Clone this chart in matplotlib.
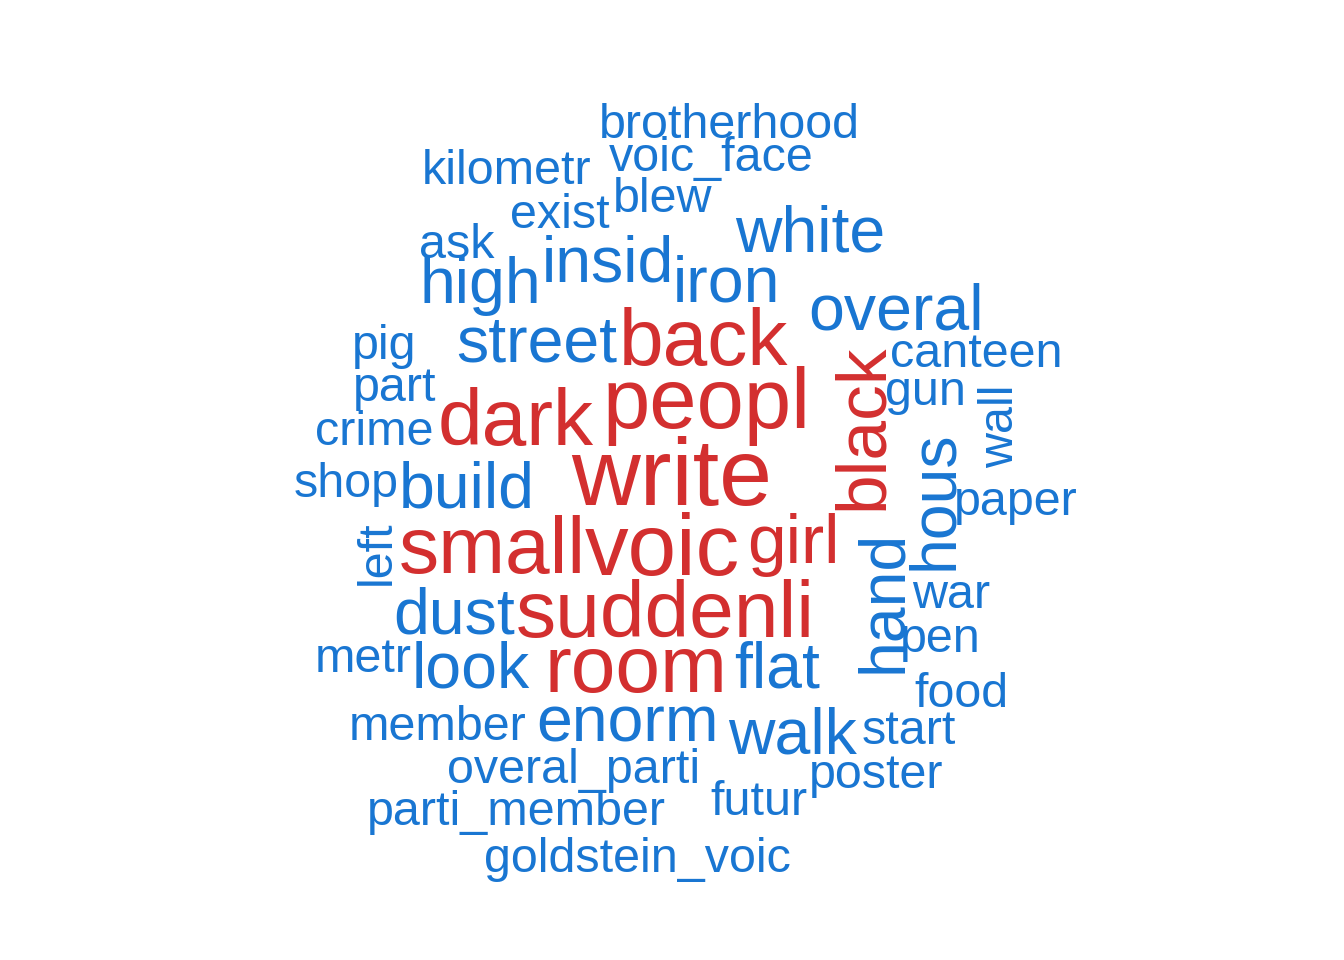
import matplotlib
matplotlib.use("Agg")
import matplotlib.pyplot as plt

# word frequencies (stemmed terms)
words = ["write", "peopl", "voic", "back", "dark", "small", "suddenli", "room",
         "girl", "black",
         "white", "overal", "insid", "high", "iron", "street", "build", "dust",
         "look", "flat", "enorm", "walk", "hous", "hand",
         "brotherhood", "voic_face", "kilometr", "blew", "exist", "ask", "pig",
         "canteen", "part", "gun", "crime", "shop", "paper", "war", "pen",
         "metr", "food", "member", "start", "overal_parti", "poster", "futur",
         "parti_member", "goldstein_voic", "left", "wall"]
freq = [31.3, 27.6, 28.4, 25.9, 25.9, 25.9, 25.9, 25.9,
        22, 22.7,
        20.2, 20.2, 20.2, 20.2, 20.2, 20.2, 20.2, 20.2,
        20.2, 20.2, 20.2, 20.2, 20.2, 20.2,
        14.45, 14.45, 14.45, 14.45, 14.45, 14.45, 14.45,
        14.45, 14.45, 14.45, 14.45, 14.45, 14.45, 14.45, 14.45,
        14.45, 14.45, 14.45, 14.45, 14.45, 14.45, 14.45,
        14.45, 14.45, 14.45, 14.45]

# placement found by the cloud layout (left end, baseline, rotation) in pixels
layout = {
    "write": (571, 505, 0), "peopl": (602, 428, 0), "voic": (585, 575, 0),
    "back": (619, 365, 0), "dark": (438, 445, 0), "small": (399, 573, 0),
    "suddenli": (516, 637, 0), "room": (544, 692, 0), "girl": (747, 563, 0),
    "black": (882, 510, 90),
    "white": (735, 252, 0), "overal": (808, 329, 0), "insid": (542, 281, 0),
    "high": (419, 303, 0), "iron": (673, 302, 0), "street": (456, 362, 0),
    "build": (399, 507, 0), "dust": (393, 633, 0), "look": (412, 687, 0),
    "flat": (734, 688, 0), "enorm": (536, 742, 0), "walk": (728, 753, 0),
    "hous": (952, 570, 90), "hand": (901, 673, 90),
    "brotherhood": (599, 138, 0), "voic_face": (609, 171, 0),
    "kilometr": (422, 184, 0), "blew": (613, 212, 0), "exist": (510, 228, 0),
    "ask": (419, 258, 0), "pig": (352, 359, 0), "canteen": (890, 367, 0),
    "part": (353, 401, 0), "gun": (885, 405, 0), "crime": (315, 445, 0),
    "shop": (294, 497, 0), "paper": (954, 515, 0), "war": (912, 608, 0),
    "pen": (900, 652, 0), "metr": (315, 672, 0), "food": (914, 707, 0),
    "member": (349, 740, 0), "start": (862, 744, 0),
    "overal_parti": (447, 783, 0), "poster": (809, 788, 0),
    "futur": (710, 815, 0), "parti_member": (367, 825, 0),
    "goldstein_voic": (484, 872, 0), "left": (390, 585, 90),
    "wall": (1013, 468, 90),
}

red = "#D32F2F"
blue = "#1976D2"

fig = plt.figure(figsize=(13.44, 9.6), dpi=100)
ax = fig.add_axes([0, 0, 1, 1])
ax.set_xlim(0, 1344)
ax.set_ylim(960, 0)
ax.axis("off")

for w, f in zip(words, freq):
    x, y, rot = layout[w]
    size = 6 + 2 * f
    color = red if f >= 22 else blue
    ax.text(x, y, w, fontsize=size, color=color, family="Liberation Sans",
            ha="left", va="baseline", rotation=rot, rotation_mode="anchor")

fig.savefig("out.png", dpi=100)
